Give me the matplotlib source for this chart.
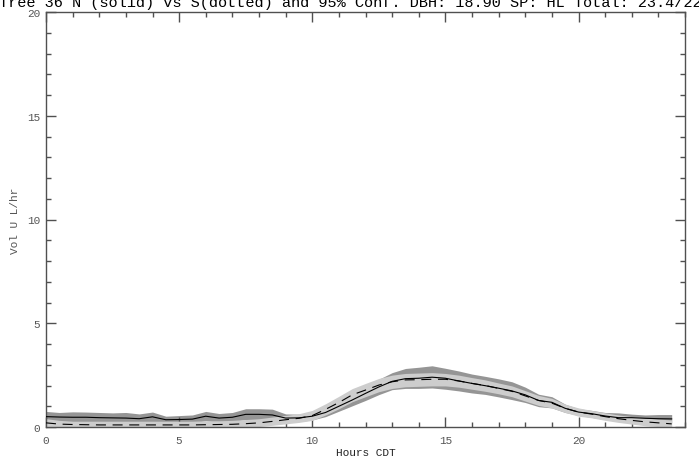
import numpy as np
import matplotlib
matplotlib.use("Agg")
import matplotlib.pyplot as plt
from matplotlib.ticker import MultipleLocator

OUT_PNG = "out.png"

# half-hour steps, hours CDT
HOURS = np.arange(0, 24, 0.5)

# North (solid) mean and 95% band
N_MEAN = [0.50, 0.48, 0.47, 0.47, 0.45, 0.44, 0.43, 0.40, 0.49, 0.35, 0.36, 0.38,
          0.52, 0.43, 0.47, 0.61, 0.61, 0.58, 0.43, 0.44, 0.52, 0.70, 1.00, 1.30,
          1.62, 1.93, 2.20, 2.33, 2.35, 2.40, 2.35, 2.22, 2.10, 1.99, 1.87, 1.74,
          1.55, 1.28, 1.19, 0.90, 0.72, 0.64, 0.53, 0.45, 0.45, 0.42, 0.40, 0.39]
N_HI = [0.75, 0.70, 0.73, 0.72, 0.70, 0.68, 0.70, 0.63, 0.72, 0.52, 0.55, 0.58,
        0.75, 0.65, 0.70, 0.88, 0.88, 0.86, 0.63, 0.62, 0.70, 0.92, 1.28, 1.65,
        2.00, 2.30, 2.62, 2.82, 2.88, 2.95, 2.83, 2.70, 2.55, 2.44, 2.32, 2.18,
        1.92, 1.58, 1.46, 1.10, 0.88, 0.80, 0.70, 0.68, 0.62, 0.58, 0.60, 0.60]
N_LO = [0.26, 0.25, 0.24, 0.24, 0.22, 0.21, 0.20, 0.18, 0.26, 0.18, 0.18, 0.20,
        0.30, 0.22, 0.26, 0.36, 0.35, 0.32, 0.22, 0.26, 0.34, 0.50, 0.76, 1.02,
        1.28, 1.56, 1.80, 1.86, 1.86, 1.88, 1.82, 1.74, 1.64, 1.57, 1.45, 1.32,
        1.18, 0.98, 0.92, 0.70, 0.56, 0.46, 0.36, 0.26, 0.26, 0.22, 0.20, 0.20]

# South (dotted) mean and 95% band
S_MEAN = [0.20, 0.14, 0.12, 0.11, 0.10, 0.10, 0.10, 0.10, 0.10, 0.10, 0.10, 0.10,
          0.11, 0.12, 0.13, 0.16, 0.20, 0.27, 0.35, 0.42, 0.55, 0.85, 1.18, 1.55,
          1.78, 2.02, 2.18, 2.27, 2.28, 2.30, 2.30, 2.22, 2.10, 2.00, 1.86, 1.72,
          1.50, 1.28, 1.15, 0.90, 0.72, 0.62, 0.50, 0.40, 0.32, 0.25, 0.20, 0.15]
S_HI = [0.40, 0.32, 0.28, 0.28, 0.28, 0.28, 0.28, 0.28, 0.28, 0.28, 0.28, 0.28,
        0.30, 0.30, 0.32, 0.36, 0.40, 0.48, 0.56, 0.64, 0.80, 1.12, 1.48, 1.85,
        2.10, 2.34, 2.50, 2.58, 2.60, 2.62, 2.58, 2.50, 2.38, 2.27, 2.12, 1.98,
        1.75, 1.52, 1.38, 1.10, 0.92, 0.80, 0.68, 0.58, 0.50, 0.44, 0.38, 0.34]
S_LO = [0.02, 0.00, 0.00, 0.00, 0.00, 0.00, 0.00, 0.00, 0.00, 0.00, 0.00, 0.00,
        0.00, 0.00, 0.00, 0.00, 0.02, 0.08, 0.15, 0.22, 0.32, 0.58, 0.88, 1.22,
        1.46, 1.70, 1.86, 1.94, 1.96, 1.98, 1.98, 1.92, 1.82, 1.72, 1.60, 1.46,
        1.25, 1.04, 0.92, 0.70, 0.52, 0.44, 0.32, 0.22, 0.14, 0.06, 0.02, 0.00]

TITLE = "Tree 36 N (solid) vs S(dotted) and 95% Conf. DBH: 18.90 SP: HL Total: 23.4/22.1"

FONT = "Liberation Mono"
DARK_BAND = "#959595"
LIGHT_BAND = "#cdcdcd"
AXIS_GRAY = "#505050"

plt.rcParams["font.family"] = FONT

fig = plt.figure(figsize=(6.99, 4.64), dpi=100)
ax = fig.add_axes([46 / 699, 36 / 464, 639 / 699, 415 / 464])

# bands: N dark underneath, S light on top
ax.fill_between(HOURS, N_LO, N_HI, color=DARK_BAND, linewidth=0, zorder=1)
ax.fill_between(HOURS, S_LO, S_HI, color=LIGHT_BAND, linewidth=0, zorder=2)

ax.plot(HOURS, N_MEAN, color="black", linewidth=0.8, zorder=4)
ax.plot(HOURS, S_MEAN, color="black", linewidth=0.8, dashes=(9, 6), zorder=3)

ax.set_xlim(0, 24)
ax.set_ylim(0, 20)

ax.xaxis.set_major_locator(MultipleLocator(5))
ax.xaxis.set_minor_locator(MultipleLocator(1))
ax.yaxis.set_major_locator(MultipleLocator(5))
ax.yaxis.set_minor_locator(MultipleLocator(1))

ax.tick_params(which="both", direction="in", top=True, right=True,
               color=AXIS_GRAY, width=1, labelsize=8, labelcolor="#555555")
ax.tick_params(which="major", length=7)
ax.tick_params(which="minor", length=3.5)
ax.tick_params(axis="x", pad=6)
ax.tick_params(axis="y", pad=4)

for sp in ax.spines.values():
    sp.set_color(AXIS_GRAY)
    sp.set_linewidth(1)

ax.set_xlabel("Hours CDT", fontsize=8, color="#222222", labelpad=1)
ax.set_ylabel("Vol U L/hr", fontsize=8, color="#555555", labelpad=5)

# title runs past the figure edges, as in the original
fig.text(-1 / 699, 1 - 7 / 464, TITLE, fontsize=11, ha="left", va="baseline",
         color="black")

fig.savefig(OUT_PNG, dpi=100)
